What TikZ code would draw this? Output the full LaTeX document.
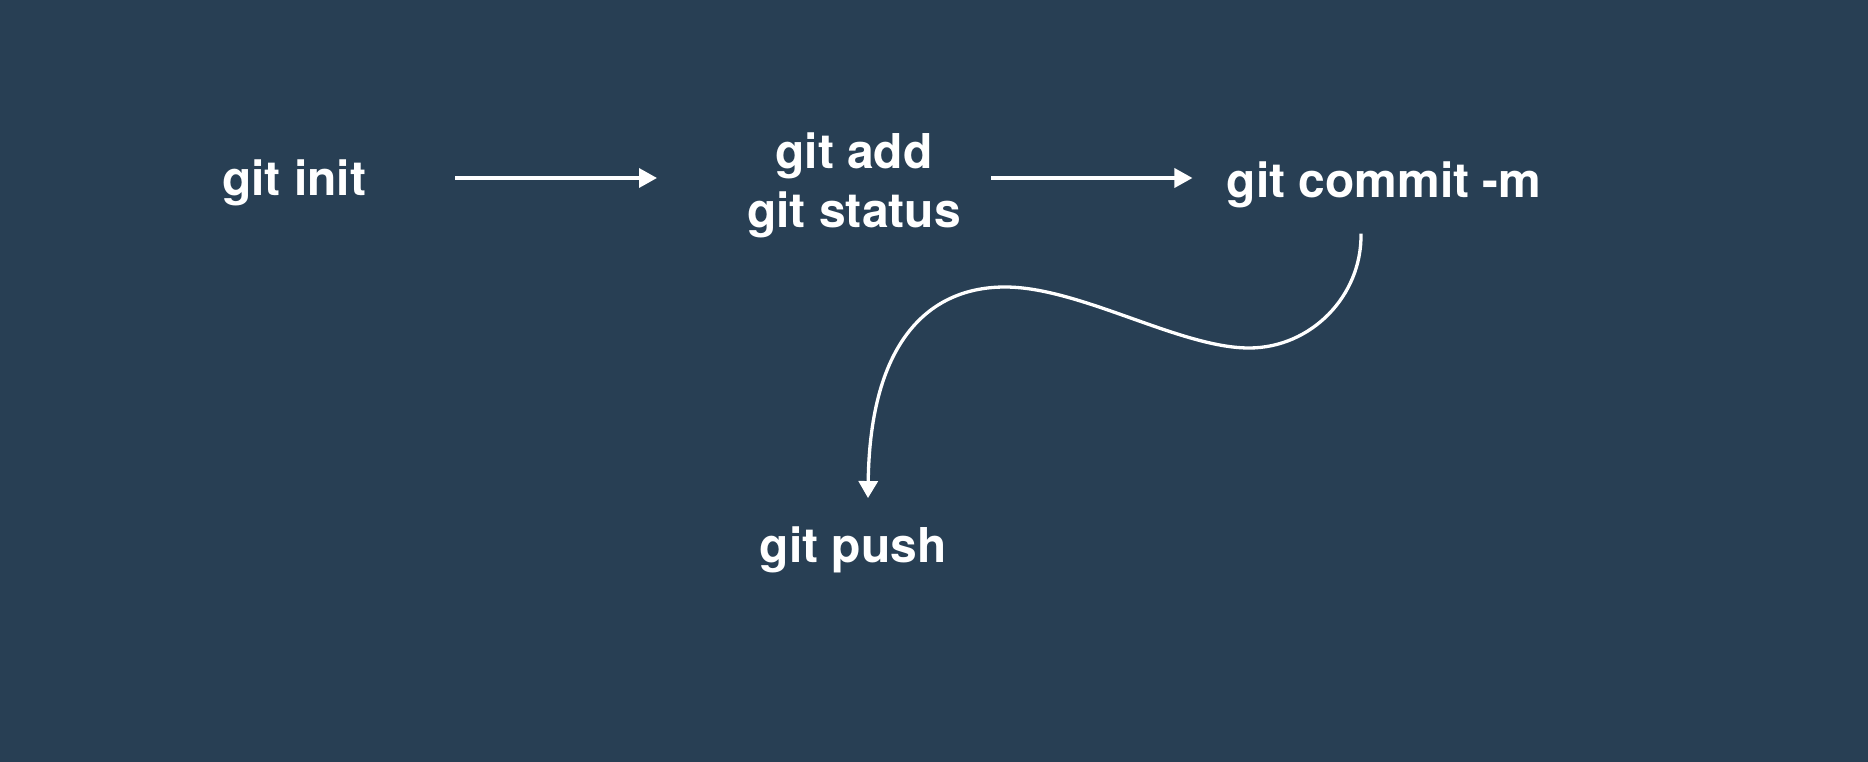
\documentclass[tikz,border=0pt]{standalone}
\usepackage{fontspec}
\setmainfont{TeX Gyre Heros}
\usetikzlibrary{arrows.meta,calc}
\definecolor{bg}{HTML}{283F54}
\begin{document}
\begin{tikzpicture}[x=1pt,y=-1pt,
  lbl/.style={text=white,inner sep=0pt,font=\fontsize{48}{59}\selectfont\bfseries},
  arr/.style={draw=white,line width=3.5pt,-{Triangle[length=18pt,width=19pt]}},
  curvearr/.style={draw=white,line width=3.3pt,-{Triangle[length=17pt,width=19pt]}}]
\fill[bg] (0,0) rectangle (1868,762);
\useasboundingbox (0,0) rectangle (1868,762);
\node[lbl,anchor=base] (init) at (294,196) {git init};
\node[lbl,anchor=north,align=center] (addst) at (854,133) {git add\\git status};
\node[lbl,anchor=base] (commit) at (1384,197.5) {git commit -m};
\node[lbl,anchor=base] (push) at (853,562) {git push};
\draw[arr,shorten <=89pt,shorten >=90pt] (init.east |- 0,178) -- (addst.west |- 0,178);
\draw[arr,shorten <=30pt,shorten >=34pt] (addst.east |- 0,178) -- (commit.west |- 0,178);
\draw[curvearr] ($(commit.south)+(-23,25.5)$)
  .. controls (1362,296) and (1311,348) .. (1249,348)
  .. controls (1180,348) and (1080,287) .. (1005,287)
  .. controls (930,287) and (870,340) .. ($(push.north)+(15,-28)$);
\end{tikzpicture}
\end{document}
